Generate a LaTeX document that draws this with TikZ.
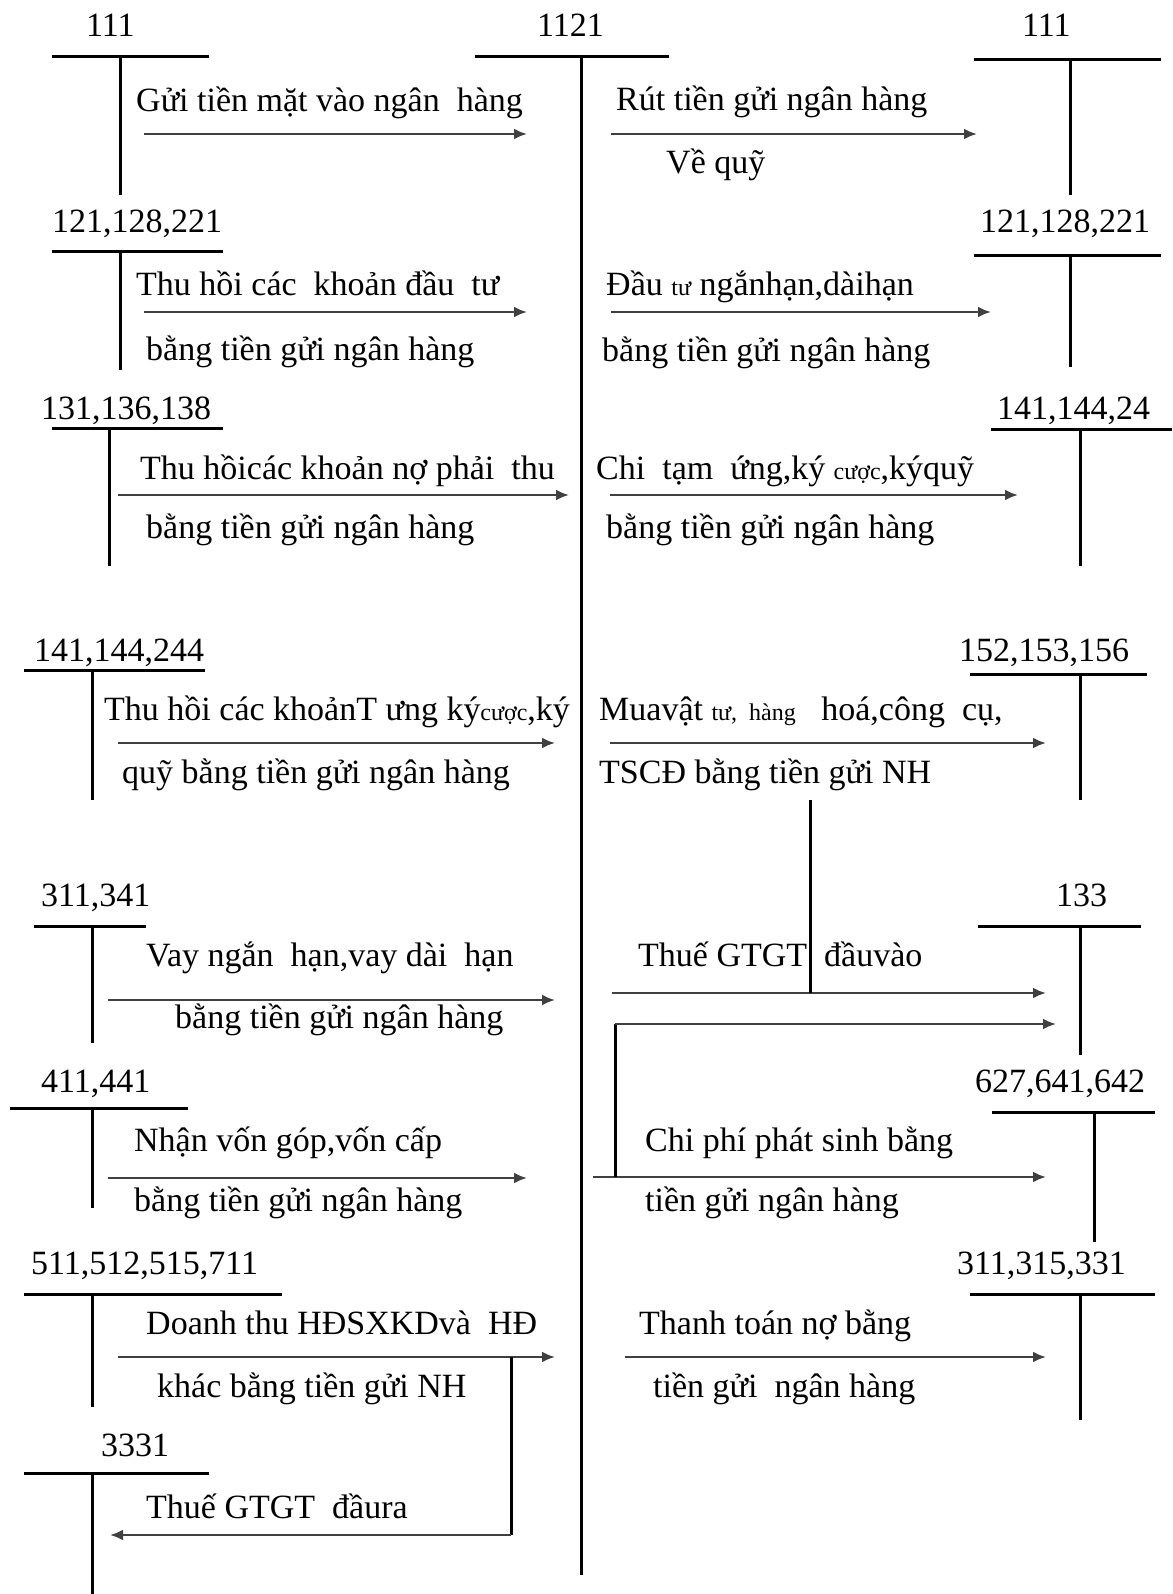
\documentclass[tikz,border=0pt]{standalone}
\usepackage{fontspec}
\setmainfont{Liberation Serif}
\usetikzlibrary{arrows.meta}
% small inline words
\newcommand\smw[1]{{\fontsize{24}{28}\selectfont #1}}
% T-account: name, label, label x, label baseline, bar left, bar right, bar y, stem x, stem bottom
\newcommand\tacct[9]{%
  \node[num] (#1) at (#3,#4) {#2};
  \coordinate (#1-l) at (#5,#7);
  \coordinate (#1-r) at (#6,#7);
  \coordinate (#1-t) at (#8,#7);
  \coordinate (#1-b) at (#8,#9);
  \draw[tacc] (#1-l) -- (#1-r) (#1-t) -- (#1-b);
}
\begin{document}
\begin{tikzpicture}[x=1pt,y=-1pt,
  tacc/.style={line width=3pt,draw=black},
  flow/.style={line width=2.4pt,draw=black!75,-{Latex[length=13pt,width=11pt]}},
  lbl/.style={anchor=base west,inner sep=0pt,font=\fontsize{34}{40}\selectfont},
  num/.style={anchor=base west,inner sep=0pt,font=\fontsize{34}{40}\selectfont}]
\useasboundingbox[fill=white] (0,0) rectangle (1172,1594);

% central account
\tacct{c1121}{1121}{537}{37}{475}{669}{57}{581}{1575}

% left column accounts
\tacct{l111}{111}{86}{37}{52}{209}{57}{120}{195}
\tacct{l121}{121,128,221}{52}{233}{52}{223}{252}{120}{370}
\tacct{l131}{131,136,138}{41}{419}{52}{223}{428}{109}{566}
\tacct{l141}{141,144,244}{34}{661}{24}{205}{670}{92}{800}
\tacct{l311}{311,341}{41}{906}{34}{146}{926}{92}{1043}
\tacct{l411}{411,441}{41}{1092}{10}{188}{1108}{92}{1208}
\tacct{l511}{511,512,515,711}{31}{1274}{24}{282}{1294}{92}{1407}
\tacct{l3331}{3331}{101}{1456}{24}{209}{1473}{92}{1594}

% right column accounts
\tacct{r111}{111}{1022}{37}{974}{1161}{60}{1070}{195}
\tacct{r121}{121,128,221}{980}{233}{974}{1161}{256}{1070}{367}
\tacct{r141}{141,144,24}{997}{419}{991}{1172}{429}{1080}{566}
\tacct{r152}{152,153,156}{959}{661}{970}{1147}{674}{1080}{800}
\tacct{r133}{133}{1056}{906}{978}{1141}{926}{1080}{1055}
\tacct{r627}{627,641,642}{975}{1092}{992}{1155}{1112}{1094}{1242}
\tacct{r311}{311,315,331}{957}{1274}{970}{1155}{1294}{1080}{1420}

% flow end points
\coordinate (a1s) at (144,134);  \coordinate (a1e) at (527,134);
\coordinate (a2s) at (611,134);  \coordinate (a2e) at (977,134);
\coordinate (a3s) at (144,312);  \coordinate (a3e) at (527,312);
\coordinate (a4s) at (611,312);  \coordinate (a4e) at (991,312);
\coordinate (a5s) at (118,495);  \coordinate (a5e) at (569,495);
\coordinate (a6s) at (610,495);  \coordinate (a6e) at (1018,495);
\coordinate (a7s) at (118,743);  \coordinate (a7e) at (555,743);
\coordinate (a8s) at (610,743);  \coordinate (a8e) at (1046,743);
\coordinate (a9s) at (108,1000); \coordinate (a9e) at (555,1000);
\coordinate (a10s) at (612,993); \coordinate (a10e) at (1046,993);
\coordinate (vtop) at (810,800); \coordinate (vbot) at (810,993);
\coordinate (a11s) at (593,1177); \coordinate (a11e) at (1046,1177);
\coordinate (a11k) at (615,1177); \coordinate (a11t) at (1056,1024);
\coordinate (a12s) at (108,1178); \coordinate (a12e) at (527,1178);
\coordinate (a13s) at (118,1357); \coordinate (a13e) at (555,1357);
\coordinate (a13k) at (511,1357); \coordinate (a13t) at (110,1535);
\coordinate (a14s) at (625,1357); \coordinate (a14e) at (1046,1357);

\draw[flow] (a1s) -- (a1e);
\draw[flow] (a2s) -- (a2e);
\draw[flow] (a3s) -- (a3e);
\draw[flow] (a4s) -- (a4e);
\draw[flow] (a5s) -- (a5e);
\draw[flow] (a6s) -- (a6e);
\draw[flow] (a7s) -- (a7e);
\draw[flow] (a8s) -- (a8e);
\draw[flow] (a9s) -- (a9e);
\draw[flow] (a10s) -- (a10e);
\draw[tacc] (vtop) -- (vbot);
\draw[flow] (a11s) -- (a11e);
\draw[tacc] (a11k) -- (a11k |- a11t);
\draw[flow] (a11k |- a11t) -- (a11t);
\draw[flow] (a12s) -- (a12e);
\draw[flow] (a13s) -- (a13e);
\draw[tacc] (a13k) -- (a13k |- a13t);
\draw[flow] (a13k |- a13t) -- (a13t);
\draw[flow] (a14s) -- (a14e);

% labels of the entries
\node[lbl] (t1) at (136,112) {Gửi tiền mặt vào ngân\ \ hàng};
\node[lbl] (t2) at (616,111) {Rút tiền gửi ngân hàng};
\node[lbl] (t2b) at (666,174) {Về quỹ};
\node[lbl] (t3) at (136,296) {Thu hồi các\ \ khoản đầu\ \ tư};
\node[lbl] (t3b) at (146,360) {bằng tiền gửi ngân hàng};
\node[lbl] (t4) at (606,296) {Đầu \smw{tư} ngắnhạn,dàihạn};
\node[lbl] (t4b) at (602,361) {bằng tiền gửi ngân hàng};
\node[lbl] (t5) at (140,479) {Thu hồicác khoản nợ phải\ \ thu};
\node[lbl] (t5b) at (146,538) {bằng tiền gửi ngân hàng};
\node[lbl] (t6) at (596,479) {Chi\ \ tạm\ \ ứng,ký \smw{cược},kýquỹ};
\node[lbl] (t6b) at (606,538) {bằng tiền gửi ngân hàng};
\node[lbl] (t7) at (104,720) {Thu hồi các khoảnT ưng ký\smw{cược},ký};
\node[lbl] (t7b) at (122,783) {quỹ bằng tiền gửi ngân hàng};
\node[lbl] (t8) at (599,720) {Muavật \smw{tư,\ \ hàng}\ \ \ hoá,công\ \ cụ,};
\node[lbl] (t8b) at (599,783) {TSCĐ bằng tiền gửi NH};
\node[lbl] (t9) at (146,966) {Vay ngắn\ \ hạn,vay dài\ \ hạn};
\node[lbl] (t9b) at (175,1028) {bằng tiền gửi ngân hàng};
\node[lbl] (t10) at (638,966) {Thuế GTGT\ \ đầuvào};
\node[lbl] (t12) at (134,1151) {Nhận vốn góp,vốn cấp};
\node[lbl] (t12b) at (134,1211) {bằng tiền gửi ngân hàng};
\node[lbl] (t11) at (645,1151) {Chi phí phát sinh bằng};
\node[lbl] (t11b) at (645,1211) {tiền gửi ngân hàng};
\node[lbl] (t13) at (146,1334) {Doanh thu HĐSXKDvà\ \ HĐ};
\node[lbl] (t13b) at (157,1397) {khác bằng tiền gửi NH};
\node[lbl] (t15) at (146,1518) {Thuế GTGT\ \ đầura};
\node[lbl] (t14) at (639,1334) {Thanh toán nợ bằng};
\node[lbl] (t14b) at (653,1397) {tiền gửi\ \ ngân hàng};
\end{tikzpicture}
\end{document}
